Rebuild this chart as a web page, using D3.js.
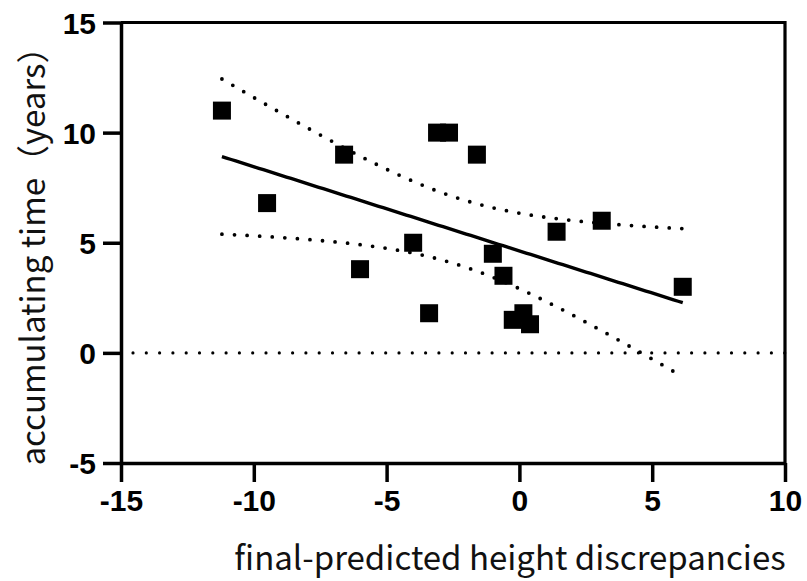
<!DOCTYPE html>
<html>
<head>
<meta charset="utf-8">
<script src="https://cdn.jsdelivr.net/npm/d3@7"></script>
<style>
  html, body { margin: 0; padding: 0; background: #fff; }
  svg { display: block; }
</style>
</head>
<body>
<svg id="chart" width="807" height="581"></svg>
<script>
// ---- data ----
const xValues = [-11.2, -9.5, -6.6, -6.0, -4.0, -3.4, -3.1, -2.65, -1.6, -1.0, -0.6, -0.25, 0.15, 0.4, 1.4, 3.1, 6.15];
const yValues = [11.0, 6.8, 9.0, 3.8, 5.0, 1.8, 10.0, 10.0, 9.0, 4.5, 3.5, 1.5, 1.8, 1.3, 5.5, 6.0, 3.0];
const xTicks = [-15, -10, -5, 0, 5, 10];
const yTicks = [-5, 0, 5, 10, 15];
const xDomain = [-15, 10];
const yDomain = [-5, 15];
const xTitle = "final-predicted height discrepancies";
const yTitle = "accumulating time（years）";
const tCrit = 2.131; // t(0.975, df = n - 2 = 15) for the 95% confidence band

// ---- layout ----
const svg = d3.select("#chart");
const pLeft = 121, pRight = 785, pTop = 22.5, pBottom = 463;
const x = d3.scaleLinear().domain(xDomain).range([pLeft, pRight]);
const y = d3.scaleLinear().domain(yDomain).range([pBottom, pTop]);

// ---- linear regression + 95% CI ----
const n = xValues.length;
const mx = d3.mean(xValues), my = d3.mean(yValues);
let sxx = 0, sxy = 0;
for (let i = 0; i < n; i++) { sxx += (xValues[i] - mx) ** 2; sxy += (xValues[i] - mx) * (yValues[i] - my); }
const slope = sxy / sxx, intercept = my - slope * mx;
let sse = 0;
for (let i = 0; i < n; i++) sse += (yValues[i] - (intercept + slope * xValues[i])) ** 2;
const sd = Math.sqrt(sse / (n - 2));
const [xmin, xmax] = d3.extent(xValues);
const fitXs = d3.range(0, 101).map(k => xmin + (xmax - xmin) * k / 100);
const band = fitXs.map(xv => {
  const yh = intercept + slope * xv;
  const h = tCrit * sd * Math.sqrt(1 / n + (xv - mx) ** 2 / sxx);
  return { x: xv, y: yh, lo: yh - h, hi: yh + h };
});

const line = d3.line().x(d => x(d[0])).y(d => y(d[1]));

// zero reference line (dotted)
svg.append("path")
  .attr("d", line([[xDomain[0], 0], [xDomain[1], 0]]))
  .attr("fill", "none").attr("stroke", "#000")
  .attr("stroke-width", 3.2).attr("stroke-linecap", "round")
  .attr("stroke-dasharray", "0,13.3")
  .attr("stroke-dashoffset", -12);

// confidence band (dotted)
["hi", "lo"].forEach(key => {
  svg.append("path")
    .attr("d", line(band.map(d => [d.x, d[key]])))
    .attr("fill", "none").attr("stroke", "#000")
    .attr("stroke-width", 3.8).attr("stroke-linecap", "round")
    .attr("stroke-dasharray", "0,12.6");
});

// regression line
svg.append("path")
  .attr("d", line(band.map(d => [d.x, d.y])))
  .attr("fill", "none").attr("stroke", "#000")
  .attr("stroke-width", 3.4);

// points
const sz = 18;
svg.append("g").selectAll("rect")
  .data(d3.range(n))
  .join("rect")
  .attr("x", i => x(xValues[i]) - sz / 2)
  .attr("y", i => y(yValues[i]) - sz / 2)
  .attr("width", sz).attr("height", sz)
  .attr("fill", "#000");

// frame top and right
svg.append("path")
  .attr("d", line([[xDomain[0], yDomain[1]], [xDomain[1], yDomain[1]], [xDomain[1], yDomain[0]]]))
  .attr("fill", "none").attr("stroke", "#000").attr("stroke-width", 3.2);

// axes
const tickFont = "'Liberation Sans', Arial, sans-serif";
const fmt = d => String(d);
const gx = svg.append("g").attr("transform", `translate(0,${pBottom})`)
  .call(d3.axisBottom(x).tickValues(xTicks).tickSize(19).tickSizeOuter(0).tickPadding(8).tickFormat(fmt));
const gy = svg.append("g").attr("transform", `translate(${pLeft},0)`)
  .call(d3.axisLeft(y).tickValues(yTicks).tickSize(18).tickSizeOuter(0).tickPadding(7).tickFormat(fmt));
[gx, gy].forEach(g => {
  g.select(".domain").attr("stroke", "#000").attr("stroke-width", 3.5);
  g.selectAll(".tick line").attr("stroke", "#000").attr("stroke-width", 3.5);
  g.selectAll(".tick text")
    .attr("fill", "#000")
    .style("font-family", tickFont)
    .style("font-weight", "bold")
    .style("font-size", "30px");
});
gy.selectAll(".tick text").attr("dy", "0.36em");

// axis titles
const titleFont = "'Noto Sans CJK SC', 'Noto Sans', sans-serif";
svg.append("text")
  .attr("x", 510).attr("y", 570)
  .attr("text-anchor", "middle")
  .style("font-family", titleFont).style("font-size", "33px")
  .attr("fill", "#111")
  .text(xTitle);
svg.append("text")
  .attr("transform", `translate(45,248) rotate(-90)`)
  .attr("text-anchor", "middle")
  .style("font-family", titleFont).style("font-size", "33px")
  .attr("fill", "#111")
  .text(yTitle);
</script>
</body>
</html>
